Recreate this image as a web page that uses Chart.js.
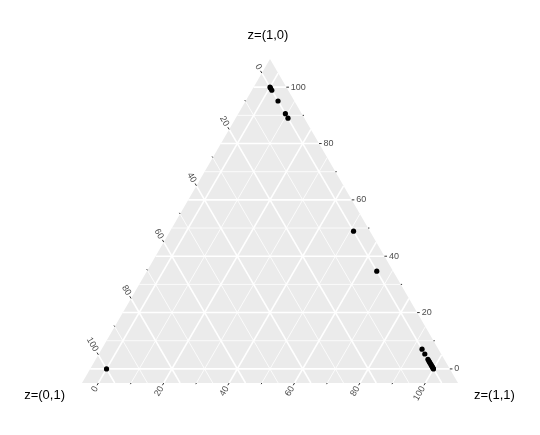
<!DOCTYPE html>
<html>
<head>
<meta charset="utf-8">
<script src="https://cdn.jsdelivr.net/npm/chart.js@4.4.1/dist/chart.umd.min.js"></script>
<style>
  html, body { margin: 0; padding: 0; background: #fff; }
  #wrap { width: 540px; height: 435px; position: relative; }
</style>
</head>
<body>
<div id="wrap"><canvas id="chart"></canvas></div>
<script>
// Titulos dos vertices (topo, esquerda, direita)
const topTitle = 'z=(1,0)';
const leftTitle = 'z=(0,1)';
const rightTitle = 'z=(1,1)';

// Limites de cada componente e valores dos ticks
const limitMin = -5;
const limitMax = 110;
const majorTicks = [0, 20, 40, 60, 80, 100];
const minorTicks = [10, 30, 50, 70, 90];
const tickLabels = ['0', '20', '40', '60', '80', '100'];

// Pontos (componentes L = esquerda, T = topo, R = direita)
const pointT = [100, 99.6, 98.9, 95.1, 90.6, 89.0, 48.9, 34.7, 7.0, 5.3, 3.4, 2.9, 2.4, 1.9, 1.4, 1.0, 0.6, 0.3, 0, 0];
const pointR = [0, 0.4, 1.1, 4.9, 9.4, 11.0, 51.1, 65.3, 93.0, 94.7, 96.6, 97.1, 97.6, 98.1, 98.6, 99.0, 99.4, 99.7, 100, 0];
const pointL = [0, 0, 0, 0, 0, 0, 0, 0, 0, 0, 0, 0, 0, 0, 0, 0, 0, 0, 0, 100];

const SQ3 = Math.sqrt(3) / 2;

// Converte coordenadas ternarias para cartesianas
function toXY(l, t, r) {
    const s = l + t + r;
    return { x: (r + t / 2) * 100 / s, y: t * SQ3 * 100 / s };
}

const other = 100 - 2 * limitMin; // 110 - soma dos outros dois no limite
const vTop = toXY(limitMin, limitMax, limitMin);
const vLeft = toXY(limitMax, limitMin, limitMin);
const vRight = toXY(limitMin, limitMin, limitMax);

// Linhas de grade para cada componente
function gridLine(comp, v) {
    const rest = 100 - v - limitMin;
    if (comp === 'T') return [toXY(limitMin, v, rest), toXY(rest, v, limitMin)];
    if (comp === 'L') return [toXY(v, limitMin, rest), toXY(v, rest, limitMin)];
    return [toXY(limitMin, rest, v), toXY(rest, limitMin, v)];
}

const datasets = [];

datasets.push({
    label: 'pontos',
    data: pointT.map((t, i) => toXY(pointL[i], t, pointR[i])),
    backgroundColor: '#000',
    borderColor: '#000',
    pointRadius: 2.6,
    borderWidth: 0,
    showLine: false,
    order: 0
});

['T', 'L', 'R'].forEach(comp => {
    majorTicks.forEach(v => {
        datasets.push({
            data: gridLine(comp, v), showLine: true, borderColor: '#fff',
            borderWidth: 1.6, pointRadius: 0, order: 1
        });
    });
    minorTicks.forEach(v => {
        datasets.push({
            data: gridLine(comp, v), showLine: true, borderColor: '#fff',
            borderWidth: 0.8, pointRadius: 0, order: 2
        });
    });
});

datasets.push({
    label: 'fundo',
    data: [vLeft, vTop, vRight, vLeft],
    showLine: true,
    borderWidth: 0,
    borderColor: 'rgba(0,0,0,0)',
    backgroundColor: '#EBEBEB',
    fill: 'shape',
    pointRadius: 0,
    order: 3
});

// Plugin que desenha ticks, rotulos e titulos dos eixos
const ternaryAxes = {
    id: 'ternaryAxes',
    afterDraw(chart) {
        const { ctx, scales: { x, y } } = chart;
        const px = p => ({ x: x.getPixelForValue(p.x), y: y.getPixelForValue(p.y) });
        const axes = [
            { pos: v => toXY(limitMin, v, 100 - v - limitMin), dir: [1, 0], rot: 0, align: 'left' },
            { pos: v => toXY(v, 100 - v - limitMin, limitMin), dir: [-0.5, -SQ3], rot: Math.PI / 3, align: 'right' },
            { pos: v => toXY(100 - v - limitMin, limitMin, v), dir: [-0.5, SQ3], rot: -Math.PI / 3, align: 'right' }
        ];
        ctx.save();
        ctx.strokeStyle = '#333';
        ctx.lineWidth = 1;
        ctx.fillStyle = '#4D4D4D';
        ctx.font = '9px "Liberation Sans", Arial, sans-serif';
        ctx.textBaseline = 'middle';
        axes.forEach(ax => {
            const [dx, dy] = ax.dir;
            minorTicks.forEach(v => {
                const p = px(ax.pos(v));
                ctx.beginPath();
                ctx.moveTo(p.x, p.y);
                ctx.lineTo(p.x + dx * 1.3, p.y + dy * 1.3);
                ctx.stroke();
            });
            majorTicks.forEach((v, i) => {
                const p = px(ax.pos(v));
                ctx.beginPath();
                ctx.moveTo(p.x, p.y);
                ctx.lineTo(p.x + dx * 2.6, p.y + dy * 2.6);
                ctx.stroke();
                ctx.save();
                ctx.translate(p.x + dx * 4.5, p.y + dy * 4.5);
                ctx.rotate(ax.rot);
                ctx.textAlign = ax.align;
                ctx.fillText(tickLabels[i], 0, 0);
                ctx.restore();
            });
        });

        ctx.fillStyle = '#000';
        ctx.font = '13px "Liberation Sans", Arial, sans-serif';
        const a = px(vTop), l = px(vLeft), r = px(vRight);
        ctx.textAlign = 'center';
        ctx.fillText(topTitle, a.x - 2, a.y - 24);
        ctx.textAlign = 'right';
        ctx.fillText(leftTitle, l.x - 17, l.y + 12);
        ctx.textAlign = 'left';
        ctx.fillText(rightTitle, r.x + 16, r.y + 12);
        ctx.restore();
    }
};

new Chart(document.getElementById('chart'), {
    type: 'scatter',
    data: { datasets },
    options: {
        responsive: true,
        maintainAspectRatio: false,
        animation: false,
        events: [],
        layout: { padding: { left: 82, right: 82, top: 59, bottom: 52 } },
        plugins: { legend: { display: false }, tooltip: { enabled: false } },
        scales: {
            x: { type: 'linear', display: false, min: vLeft.x, max: vRight.x },
            y: { type: 'linear', display: false, min: vLeft.y, max: vTop.y }
        }
    },
    plugins: [ternaryAxes]
});
</script>
</body>
</html>
